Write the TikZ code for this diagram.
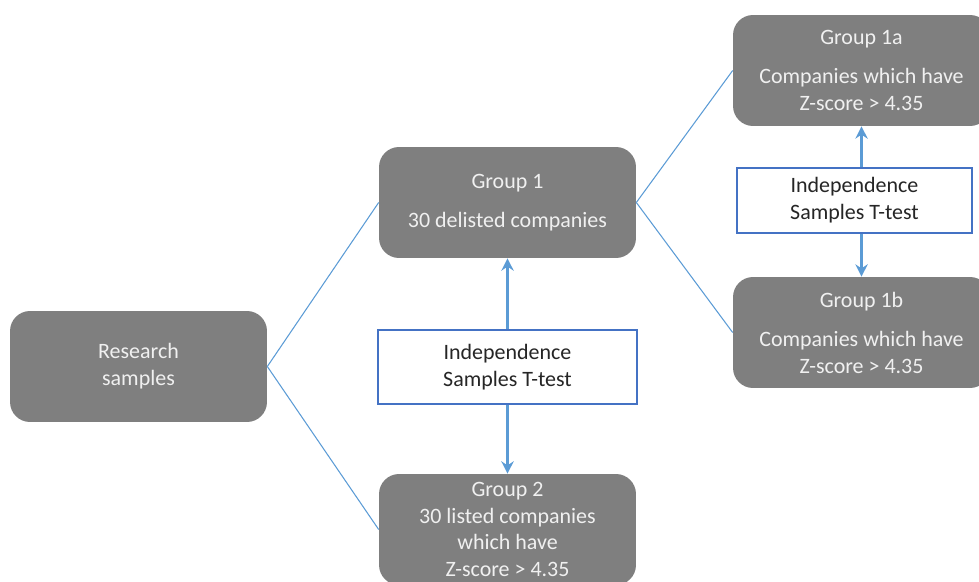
\documentclass[tikz,border=0pt]{standalone}
\usepackage{fontspec}
\setmainfont{Carlito}
\usetikzlibrary{arrows.meta}
\definecolor{boxgray}{HTML}{7F7F7F}
\definecolor{linkblue}{HTML}{5B9BD5}
\definecolor{testblue}{HTML}{4472C4}
\begin{document}
\begin{tikzpicture}[x=0.02cm, y=-0.02cm,
    group/.style={fill=boxgray, text=white!94!black, rounded corners=0.4cm,
        minimum width=5.14cm, minimum height=2.22cm, inner sep=0pt, align=center,
        font=\fontsize{12.5}{15.3}\selectfont},
    ttest/.style={draw=testblue, line width=1.1pt, fill=white, text=black!85,
        inner sep=0pt, align=center, font=\fontsize{12.5}{15.3}\selectfont},
    link/.style={linkblue, line width=0.6pt},
    testarrow/.style={linkblue, line width=1.2pt, -{Stealth[length=7pt, width=7pt]}}]
            \useasboundingbox (0,0) rectangle (979,581);
            \clip (0,0) rectangle (979,581);

            % sample and groups
            \node[group] (samples) at (138.5,366.5) {Research\\samples};
            \node[group] (group1) at (507.5,202.5) {Group 1\\[7pt]30 delisted companies};
            \node[group] (group2) at (507.5,529.5) {Group 2\\30 listed companies\\which have\\Z-score > 4.35};
            \node[group] (group1a) at (861.5,70.5) {Group 1a\\[7pt]Companies which have\\Z-score > 4.35};
            \node[group] (group1b) at (861.5,332.5) {Group 1b\\[7pt]Companies which have\\Z-score > 4.35};

            % t-tests
            \node[ttest, minimum width=5.18cm, minimum height=1.48cm] (test1) at (507.5,367) {Independence\\Samples T-test};
            \node[ttest, minimum width=4.7cm, minimum height=1.3cm] (test2) at (854.5,200.5) {Independence\\Samples T-test};

            \draw[link] (samples.east) -- (group1.west);
            \draw[link] (samples.east) -- (group2.west);
            \draw[link] (group1.east) -- (group1a.west);
            \draw[link] (group1.east) -- (group1b.west);

            \draw[testarrow] (test1.north) -- (group1.south);
            \draw[testarrow] (test1.south) -- (group2.north);
            \draw[testarrow] (test2.north -| group1a.south) -- (group1a.south);
            \draw[testarrow] (test2.south -| group1b.north) -- (group1b.north);
\end{tikzpicture}
\end{document}
